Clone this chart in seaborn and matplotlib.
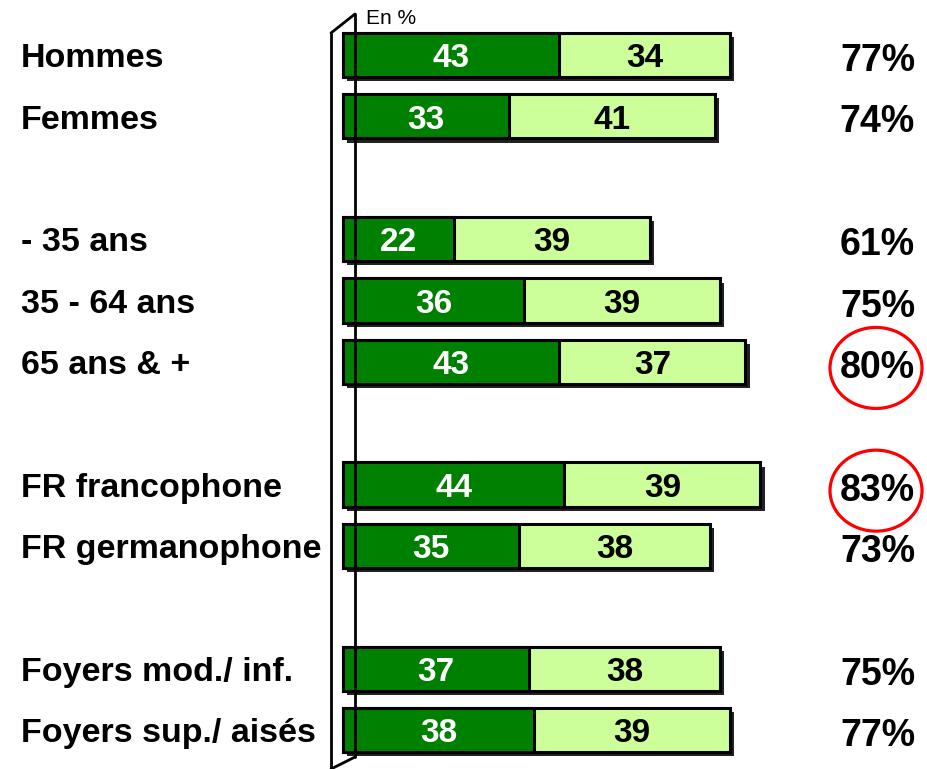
import matplotlib
matplotlib.use("Agg")
import matplotlib.pyplot as plt
import matplotlib.patheffects as pe
from matplotlib.patches import Ellipse
import seaborn as sns
import pandas as pd

# ---- data ----
categories = ["Hommes", "Femmes", "- 35 ans", "35 - 64 ans", "65 ans & +",
              "FR francophone", "FR germanophone",
              "Foyers mod./ inf.", "Foyers sup./ aisés"]
dark_values = [43, 33, 22, 36, 43, 44, 35, 37, 38]
light_values = [34, 41, 39, 39, 37, 39, 38, 38, 39]
total_labels = ["77%", "74%", "61%", "75%", "80%", "83%", "73%", "75%", "77%"]
highlighted = ["65 ans & +", "FR francophone"]
unit_label = "En %"

order = ["Hommes", "Femmes", "_g1", "- 35 ans", "35 - 64 ans", "65 ans & +", "_g2",
         "FR francophone", "FR germanophone", "_g3",
         "Foyers mod./ inf.", "Foyers sup./ aisés"]

df = pd.DataFrame({"cat": categories, "dark": dark_values, "light": light_values})
df["total"] = df["dark"] + df["light"]

DARK = "#008000"
LIGHT = "#CCFF99"

sns.set_theme(style="white")
plt.rcParams["font.family"] = ["Liberation Sans", "DejaVu Sans"]

W, H = 927, 769
fig = plt.figure(figsize=(W / 100, H / 100), dpi=100)
ax = fig.add_axes([0, 0, 1, 1])

X0, SX = 343.0, 5.03
Y0, SY = 55.0, 61.36
def px_x(p):
    return (p - X0) / SX
def px_y(p):
    return (p - Y0) / SY

BAR_H = 0.72
shadow = [pe.SimplePatchShadow(offset=(3, -3), shadow_rgbFace="#222222", alpha=1.0), pe.Normal()]

sns.barplot(data=df, x="total", y="cat", order=order, orient="h", color=LIGHT,
            saturation=1, edgecolor="black", linewidth=2.2, width=BAR_H, ax=ax)
for p in ax.patches:
    p.set_path_effects(shadow)
sns.barplot(data=df, x="dark", y="cat", order=order, orient="h", color=DARK,
            saturation=1, edgecolor="black", linewidth=2.2, width=BAR_H, ax=ax)

ax.set_xlim(px_x(0), px_x(W))
ax.set_ylim(px_y(H), px_y(0))
ax.set_axis_off()

lw = 2.0
ax.plot([px_x(331), px_x(331)], [px_y(33), px_y(775)], color="black", lw=lw, zorder=1,
        solid_capstyle="butt")
ax.plot([px_x(331), px_x(355)], [px_y(33), px_y(14)], color="black", lw=lw, zorder=1)
ax.plot([px_x(355), px_x(355)], [px_y(14), px_y(757)], color="black", lw=lw, zorder=1)
ax.plot([px_x(331), px_x(355)], [px_y(769), px_y(757)], color="black", lw=lw, zorder=1)

ax.text(px_x(366), px_y(19), unit_label, fontsize=15, ha="left", va="center",
        color="black")

pos = {c: i for i, c in enumerate(order)}
for i, c in enumerate(categories):
    y = pos[c]
    d, l = dark_values[i], light_values[i]
    ax.text(d / 2, y + 0.06, str(d), color="white", fontsize=24, fontweight="bold",
            ha="center", va="center", zorder=5)
    ax.text(d + l / 2, y + 0.06, str(l), color="black", fontsize=24, fontweight="bold",
            ha="center", va="center", zorder=5)
    ax.text(px_x(21), y + 0.06, c, color="black", fontsize=24.5, fontweight="bold",
            ha="left", va="center", zorder=5)
    ax.text(px_x(915), y + 0.1, total_labels[i], color="black", fontsize=27,
            fontweight="bold", ha="right", va="center", zorder=5)
    if c in highlighted:
        ax.add_patch(Ellipse((px_x(876), y + 0.1), 92 / SX, 81 / SY, fill=False,
                             edgecolor="red", lw=2.3, zorder=6))

fig.savefig("out.png", dpi=100)
